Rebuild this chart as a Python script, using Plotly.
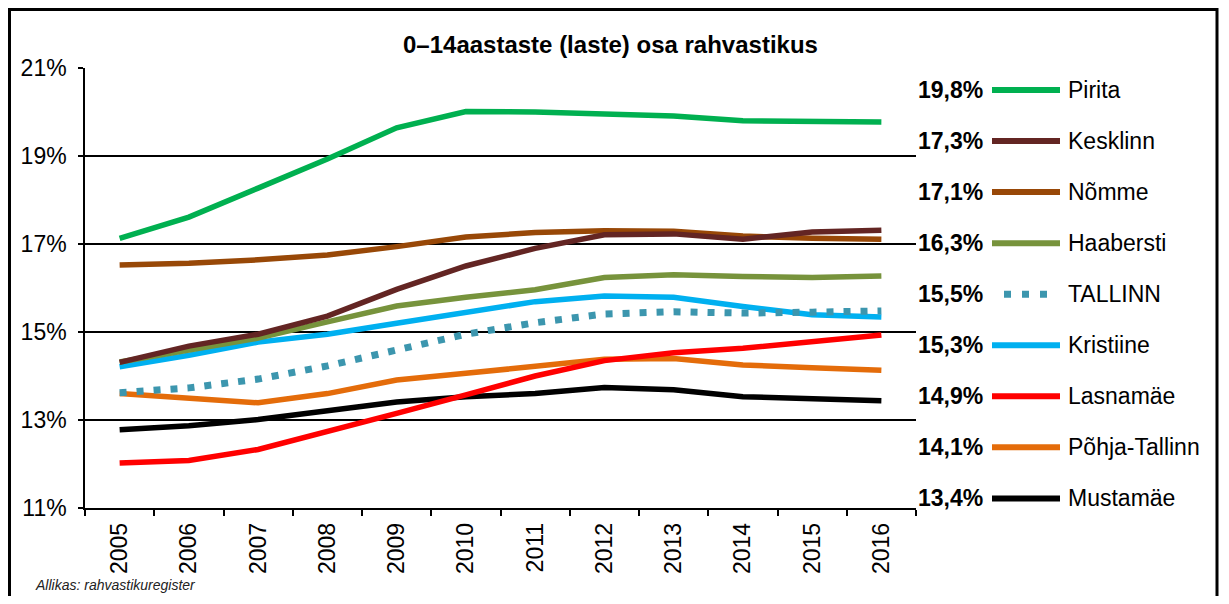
import plotly.graph_objects as go

# data (share of 0-14 year olds, %)
years = [str(y) for y in range(2005, 2017)]

districts = ["Pirita", "Kesklinn", "Nõmme", "Haabersti", "TALLINN",
             "Kristiine", "Lasnamäe", "Põhja-Tallinn", "Mustamäe"]

pirita = [17.13, 17.61, 18.27, 18.93, 19.64, 20.01, 20.00, 19.95, 19.91, 19.80, 19.80, 19.77]
kesklinn = [14.31, 14.68, 14.95, 15.36, 15.97, 16.50, 16.90, 17.21, 17.23, 17.11, 17.27, 17.31]
nomme = [16.52, 16.56, 16.64, 16.75, 16.94, 17.16, 17.26, 17.30, 17.29, 17.18, 17.13, 17.11]
haabersti = [14.32, 14.59, 14.86, 15.23, 15.59, 15.79, 15.96, 16.24, 16.30, 16.26, 16.24, 16.27]
tallinn = [13.62, 13.73, 13.93, 14.23, 14.59, 14.95, 15.21, 15.41, 15.46, 15.43, 15.45, 15.48]
kristiine = [14.21, 14.47, 14.77, 14.95, 15.20, 15.46, 15.69, 15.82, 15.79, 15.58, 15.39, 15.34]
lasnamae = [12.02, 12.08, 12.33, 12.73, 13.15, 13.57, 14.00, 14.35, 14.53, 14.63, 14.79, 14.93]
pohja = [13.60, 13.48, 13.39, 13.60, 13.91, 14.06, 14.23, 14.38, 14.40, 14.25, 14.19, 14.13]
mustamae = [12.78, 12.87, 13.01, 13.21, 13.41, 13.53, 13.60, 13.74, 13.69, 13.53, 13.47, 13.44]

series = [pirita, kesklinn, nomme, haabersti, tallinn, kristiine, lasnamae, pohja, mustamae]
colors = ["#00B050", "#632523", "#984807", "#77933C", "#3C96AE",
          "#00B0F0", "#FF0000", "#E46C0A", "#000000"]

FONT = "Liberation Sans, Arial, sans-serif"
# the page body has an 8px margin, so the figure is 16px smaller than the window
OFF = 8
W, H = 1229 - 2 * OFF, 604 - 2 * OFF
ML, MR, MT, MB = 77, 305, 60, 88
PW, PH = W - ML - MR, H - MT - MB


def px(x):
    # window pixel -> paper fraction
    return (x - OFF - ML) / PW


def py(y):
    return (H - MB - (y - OFF)) / PH


fig = go.Figure()

# draw in reverse so Pirita ends on top
for name, vals, col in reversed(list(zip(districts, series, colors))):
    if name == "TALLINN":
        line = dict(color=col, width=7, dash="7px,10px")
    else:
        line = dict(color=col, width=5.5)
    fig.add_trace(go.Scatter(x=years, y=vals, mode="lines", name=name,
                             line=line, showlegend=False, hoverinfo="skip"))

shapes = []
annotations = []

# custom legend on the right: end value, line sample, name
row_y0, row_step = 90, 51.05
for i, (name, vals, col) in enumerate(zip(districts, series, colors)):
    yy = py(row_y0 + i * row_step)
    label = f"{vals[-1]:.1f}".replace(".", ",") + "%"
    annotations.append(dict(x=px(985), y=yy, xref="paper", yref="paper",
                            text=f"<b>{label}</b>", showarrow=False,
                            xanchor="right", yanchor="middle",
                            font=dict(family=FONT, size=23, color="black")))
    annotations.append(dict(x=px(1066), y=yy, xref="paper", yref="paper",
                            text=name, showarrow=False,
                            xanchor="left", yanchor="middle",
                            font=dict(family=FONT, size=23, color="black")))
    if name == "TALLINN":
        shapes.append(dict(type="line", xref="paper", yref="paper",
                           x0=px(1004), x1=px(1050), y0=yy, y1=yy,
                           line=dict(color=col, width=7, dash="7px,11px")))
    else:
        shapes.append(dict(type="line", xref="paper", yref="paper",
                           x0=px(992), x1=px(1060), y0=yy, y1=yy,
                           line=dict(color=col, width=6)))

# outer frame
shapes.append(dict(type="rect", xref="paper", yref="paper",
                   x0=px(9.5), x1=px(1217), y0=py(620), y1=py(9.5),
                   line=dict(color="black", width=3), layer="above"))

annotations.append(dict(x=px(610), y=py(44), xref="paper", yref="paper",
                        text="<b>0–14aastaste (laste) osa rahvastikus</b>",
                        showarrow=False, xanchor="center", yanchor="middle",
                        font=dict(family=FONT, size=24, color="black")))
annotations.append(dict(x=px(33), y=py(585), xref="paper", yref="paper",
                        text="<i>Allikas: rahvastikuregister</i>",
                        showarrow=False, xanchor="left", yanchor="middle",
                        font=dict(family=FONT, size=14, color="#222222")))

fig.update_layout(
    width=W, height=H,
    margin=dict(l=ML, r=MR, t=MT, b=MB),
    paper_bgcolor="white", plot_bgcolor="white",
    font=dict(family=FONT, size=23, color="black"),
    shapes=shapes, annotations=annotations,
    showlegend=False,
)
fig.update_xaxes(
    type="category", range=[-0.5, len(years) - 0.5],
    tickangle=-90, tickson="boundaries", ticks="outside", ticklen=6,
    tickcolor="black", tickwidth=1.5, ticklabelstandoff=4,
    showline=True, linecolor="black", linewidth=1.5,
    showgrid=False, zeroline=False,
    tickfont=dict(family=FONT, size=23, color="black"),
)
fig.update_yaxes(
    range=[11, 21], tick0=11, dtick=2, ticksuffix="%",
    ticks="outside", ticklen=5, tickcolor="black", tickwidth=1.5,
    ticklabelstandoff=7,
    showline=True, linecolor="black", linewidth=1.5,
    showgrid=True, gridcolor="black", gridwidth=1.5, zeroline=False,
    tickfont=dict(family=FONT, size=23, color="black"),
)

fig.write_html("out.html")
